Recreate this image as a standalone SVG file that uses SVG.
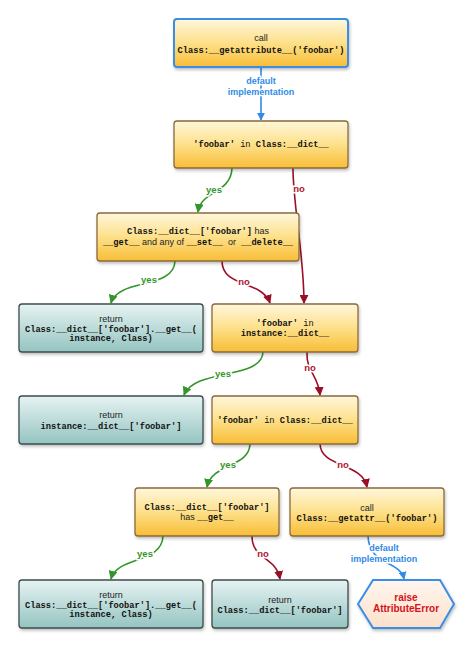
<svg xmlns="http://www.w3.org/2000/svg" width="474" height="648" viewBox="0 0 474 648">
<defs>
<linearGradient id="gy" x1="0" y1="0" x2="0" y2="1">
<stop offset="0" stop-color="#fff7dc"/><stop offset="0.5" stop-color="#fde08a"/><stop offset="1" stop-color="#f8bd36"/>
</linearGradient>
<linearGradient id="gt" x1="0" y1="0" x2="0" y2="1">
<stop offset="0" stop-color="#e6f3f2"/><stop offset="1" stop-color="#94c4c1"/>
</linearGradient>
<linearGradient id="gh" x1="0" y1="0" x2="0" y2="1">
<stop offset="0" stop-color="#fff6ef"/><stop offset="1" stop-color="#fde0cb"/>
</linearGradient>
<filter id="sh" x="-10%" y="-10%" width="130%" height="140%">
<feDropShadow dx="1" dy="2" stdDeviation="1.5" flood-color="#000" flood-opacity="0.25"/>
</filter>
<marker id="ab" viewBox="0 0 10 10" refX="9" refY="5" markerWidth="8" markerHeight="8" markerUnits="userSpaceOnUse" orient="auto"><path d="M0,0 L10,5 L0,10 z" fill="#2f8be6"/></marker>
<marker id="ag" viewBox="0 0 10 10" refX="9" refY="5" markerWidth="9" markerHeight="9" markerUnits="userSpaceOnUse" orient="auto"><path d="M0,0 L10,5 L0,10 z" fill="#33962a"/></marker>
<marker id="ar" viewBox="0 0 10 10" refX="9" refY="5" markerWidth="9" markerHeight="9" markerUnits="userSpaceOnUse" orient="auto"><path d="M0,0 L10,5 L0,10 z" fill="#9b0f26"/></marker>
</defs>
<style>
.y{fill:url(#gy);stroke:#8a6a3c;stroke-width:1.3;filter:url(#sh)}
.yb{fill:url(#gy);stroke:#3b8de6;stroke-width:2;filter:url(#sh)}
.t{fill:url(#gt);stroke:#3c4d4d;stroke-width:1.3;filter:url(#sh)}
.hx{fill:url(#gh);stroke:#3b8de6;stroke-width:2;filter:url(#sh)}
text{font-family:"Liberation Sans",Arial,sans-serif;font-size:9px;fill:#222;text-anchor:middle}
.m{font-family:"Liberation Mono","Courier New",monospace;font-size:8.7px;font-weight:bold;fill:#111}
.mr{font-family:"Liberation Mono","Courier New",monospace;font-size:8.7px;fill:#111}
.cb{fill:none;stroke:#2f8be6;stroke-width:1.6}
.cg{fill:none;stroke:#33962a;stroke-width:1.6}
.cr{fill:none;stroke:#9b0f26;stroke-width:1.6}
.lb{font-weight:bold;fill:#2f8be6;font-size:9px;stroke:#fff;stroke-width:3;paint-order:stroke}
.lg{font-weight:bold;fill:#33962a;font-size:9.5px;stroke:#fff;stroke-width:3;paint-order:stroke}
.lr{font-weight:bold;fill:#b0112c;font-size:9.5px;stroke:#fff;stroke-width:3;paint-order:stroke}
.he{font-weight:bold;fill:#d4121c;font-size:10px}
</style>

<g id="connectors">
<path class="cb" d="M261,67 L261,120" marker-end="url(#ab)"/>
<path class="cg" d="M232,168 C231,194 201,190 198,212" marker-end="url(#ag)"/>
<path class="cr" d="M293,168 C293,205 304,255 304,303" marker-end="url(#ar)"/>
<path class="cg" d="M175,261 C174,290 118,278 111,303" marker-end="url(#ag)"/>
<path class="cr" d="M222,261 C222,288 262,280 270,303" marker-end="url(#ar)"/>
<path class="cg" d="M263,352 C262,380 195,368 184,395" marker-end="url(#ag)"/>
<path class="cr" d="M307,352 C306,372 318,374 320,395" marker-end="url(#ar)"/>
<path class="cg" d="M250,444 C249,468 212,463 207,487" marker-end="url(#ag)"/>
<path class="cr" d="M320,444 C321,468 362,462 367,487" marker-end="url(#ar)"/>
<path class="cg" d="M163,536 C162,564 117,556 111,579" marker-end="url(#ag)"/>
<path class="cr" d="M252,536 C252,560 276,556 280,579" marker-end="url(#ar)"/>
<path class="cb" d="M368,536 C369,566 400,560 404,579" marker-end="url(#ab)"/>
<text class="lb" x="261" y="84">default</text>
<text class="lb" x="261" y="95">implementation</text>
<text class="lg" x="214" y="193">yes</text>
<text class="lr" x="299" y="192">no</text>
<text class="lg" x="149" y="283">yes</text>
<text class="lr" x="244" y="285">no</text>
<text class="lg" x="223" y="377">yes</text>
<text class="lr" x="310" y="371">no</text>
<text class="lg" x="228" y="468">yes</text>
<text class="lr" x="343" y="468">no</text>
<text class="lg" x="145" y="557">yes</text>
<text class="lr" x="263" y="557">no</text>
<text class="lb" x="384" y="551">default</text>
<text class="lb" x="384" y="562">implementation</text>
</g>

<g id="n1">
<rect class="yb" x="174" y="19" width="174" height="48" rx="3"/>
<text x="261" y="41">call</text>
<text class="m" x="261" y="53">Class:__getattribute__('foobar')</text>
</g>
<g id="n2">
<rect class="y" x="174" y="121" width="174" height="47" rx="3"/>
<text x="261" y="147"><tspan class="m">'foobar'</tspan><tspan class="mr"> in </tspan><tspan class="m">Class:__dict__</tspan></text>
</g>
<g id="n3">
<rect class="y" x="97" y="213" width="202" height="48" rx="3"/>
<text x="198" y="234"><tspan class="m">Class:__dict__['foobar']</tspan><tspan> has</tspan></text>
<text x="198" y="245" xml:space="preserve"><tspan class="m">__get__</tspan><tspan> and any of </tspan><tspan class="m">__set__</tspan><tspan>  or  </tspan><tspan class="m">__delete__</tspan></text>
</g>
<g id="n4">
<rect class="t" x="19" y="304" width="184" height="48" rx="3"/>
<text x="111" y="322">return</text>
<text class="m" x="111" y="332">Class:__dict__['foobar'].__get__(</text>
<text class="m" x="111" y="341">instance, Class)</text>
</g>
<g id="n5">
<rect class="y" x="212" y="304" width="146" height="48" rx="3"/>
<text x="285" y="326"><tspan class="m">'foobar'</tspan><tspan class="mr"> in</tspan></text>
<text class="m" x="285" y="336">instance:__dict__</text>
</g>
<g id="n6">
<rect class="t" x="19" y="396" width="184" height="48" rx="3"/>
<text x="111" y="418">return</text>
<text class="m" x="111" y="429">instance:__dict__['foobar']</text>
</g>
<g id="n7">
<rect class="y" x="212" y="396" width="146" height="48" rx="3"/>
<text x="285" y="423"><tspan class="m">'foobar'</tspan><tspan class="mr"> in </tspan><tspan class="m">Class:__dict__</tspan></text>
</g>
<g id="n8">
<rect class="y" x="135" y="488" width="144" height="48" rx="3"/>
<text class="m" x="207" y="510">Class:__dict__['foobar']</text>
<text x="207" y="520"><tspan>has </tspan><tspan class="m">__get__</tspan></text>
</g>
<g id="n9">
<rect class="y" x="290" y="488" width="154" height="48" rx="3"/>
<text x="367" y="511">call</text>
<text class="m" x="367" y="521">Class:__getattr__('foobar')</text>
</g>
<g id="n10">
<rect class="t" x="19" y="580" width="184" height="48" rx="3"/>
<text x="111" y="598">return</text>
<text class="m" x="111" y="608">Class:__dict__['foobar'].__get__(</text>
<text class="m" x="111" y="617">instance, Class)</text>
</g>
<g id="n11">
<rect class="t" x="212" y="580" width="136" height="48" rx="3"/>
<text x="280" y="603">return</text>
<text class="m" x="280" y="613">Class:__dict__['foobar']</text>
</g>
<g id="n12">
<path class="hx" d="M358,604 L373,580 L440,580 L454,604 L440,628 L373,628 Z"/>
<text class="he" x="406" y="601">raise</text>
<text class="he" x="406" y="612">AttributeError</text>
</g>
</svg>
